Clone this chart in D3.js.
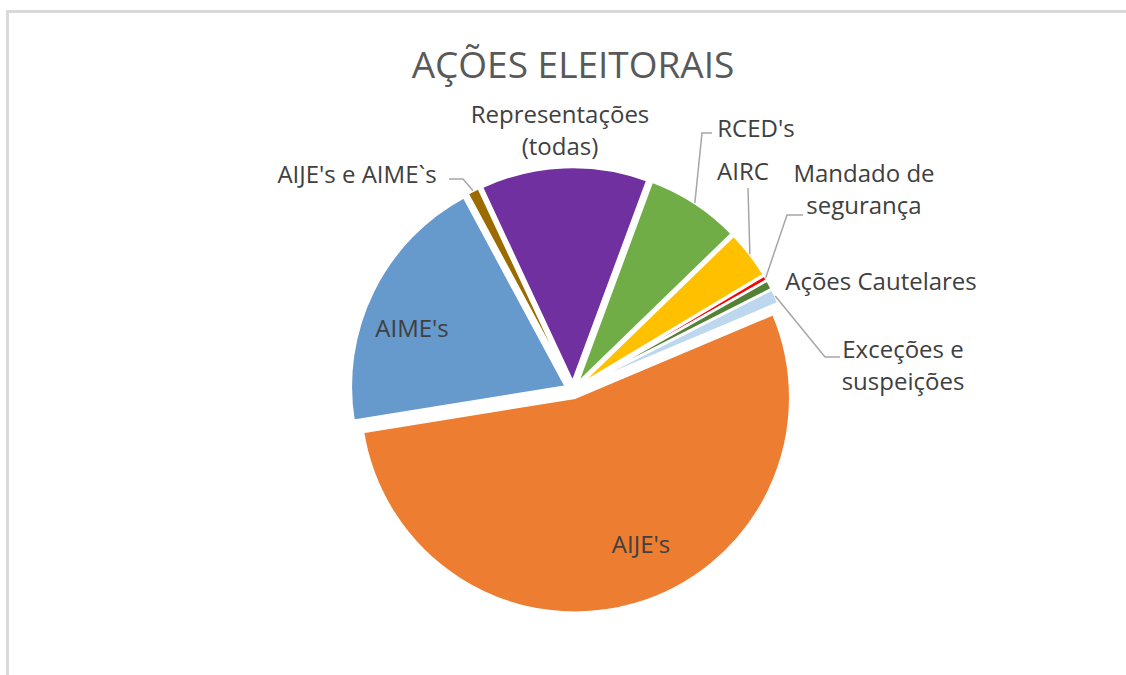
<!DOCTYPE html>
<html>
<head>
<meta charset="utf-8">
<script src="https://cdn.jsdelivr.net/npm/d3@7"></script>
<style>
  html, body { margin: 0; padding: 0; background: #fff; }
  svg { display: block; font-family: "Open Sans", "Liberation Sans", sans-serif; }
</style>
</head>
<body>
<div class="pie-chart"></div>
<script>
// chart data, in the order the slices run clockwise
var categories = ["AIJE's", "AIME's", "AIJE's e AIME`s", "Representações (todas)",
                  "RCED's", "AIRC", "Mandado de segurança", "Ações Cautelares",
                  "Exceções e suspeições"];
var values = [530, 194, 9, 124, 70, 36, 4, 7, 11];
var colors = ["#ED7D31", "#6699CC", "#9C6B00", "#7030A0",
              "#70AD47", "#FFC000", "#FF0000", "#548235", "#BDD7EE"];
var title = "AÇÕES ELEITORAIS";

// label lines and where Excel put them
var labelLines = [["AIJE's"], ["AIME's"], ["AIJE's e AIME`s"], ["Representações", "(todas)"],
                  ["RCED's"], ["AIRC"], ["Mandado de", "segurança"], ["Ações Cautelares"],
                  ["Exceções e", "suspeições"]];
var labelLayout = [
  {x: 641, y: 553},
  {x: 412, y: 337},
  {x: 357, y: 183, leader: [[463, 179], [449, 179]]},
  {x: 560, y: 123},
  {x: 756, y: 137, leader: [[702, 133], [712, 133]]},
  {x: 743, y: 180, leader: [[748, 188]]},
  {x: 864, y: 182, leader: [[787, 215], [803, 215]]},
  {x: 881, y: 290},
  {x: 903, y: 358, leader: [[825, 357], [840, 357]]}
];

var width = 1126,
    height = 675;
var cx = 573, cy = 390,
    radius = 215,
    explode = 8,
    lineHeight = 32;
var rotation = 67.1 * Math.PI / 180;

var svg = d3.select(".pie-chart").append("svg")
        .attr("width", width)
        .attr("height", height);

// chart frame (only top and left show)
svg.append("path")
        .attr("d", "M7.5," + height + "V11.5H" + width)
        .attr("fill", "none")
        .attr("stroke", "#D9D9D9")
        .attr("stroke-width", 3);

svg.append("text")
        .attr("x", cx)
        .attr("y", 78)
        .attr("text-anchor", "middle")
        .attr("font-size", 37)
        .attr("fill", "#595959")
        .text(title);

var pie = d3.pie()
        .sort(null)
        .startAngle(rotation)
        .endAngle(rotation + 2 * Math.PI);
var arc = d3.arc()
        .innerRadius(0)
        .outerRadius(radius);
var arcs = pie(values);

function mid(d) { return (d.startAngle + d.endAngle) / 2; }
function shift(d) {
  var a = mid(d);
  return [explode * Math.sin(a), -explode * Math.cos(a)];
}
function rimPoint(d) {
  var a = mid(d), s = shift(d);
  return [cx + s[0] + radius * Math.sin(a), cy + s[1] - radius * Math.cos(a)];
}

var g = svg.append("g")
        .attr("transform", "translate(" + cx + "," + cy + ")");

g.selectAll("path.slice")
        .data(arcs)
        .enter().append("path")
        .attr("class", "slice")
        .attr("d", arc)
        .attr("transform", function (d) {
          var s = shift(d);
          return "translate(" + s[0] + "," + s[1] + ")";
        })
        .attr("fill", function (d, i) { return colors[i]; })
        .attr("stroke", "#fff")
        .attr("stroke-width", 2.5)
        .attr("stroke-linejoin", "round");

// leader lines
var line = d3.line();
arcs.forEach(function (d, i) {
  var lay = labelLayout[i];
  if (!lay.leader) return;
  var pts = [rimPoint(d)].concat(lay.leader);
  svg.append("path")
          .attr("d", line(pts))
          .attr("fill", "none")
          .attr("stroke", "#A6A6A6")
          .attr("stroke-width", 1.5);
});

// data labels
arcs.forEach(function (d, i) {
  var lay = labelLayout[i];
  var t = svg.append("text")
          .attr("text-anchor", "middle")
          .attr("font-size", 24)
          .attr("fill", "#404040");
  labelLines[i].forEach(function (s, k) {
    t.append("tspan")
            .attr("x", lay.x)
            .attr("y", lay.y + k * lineHeight)
            .text(s);
  });
});
</script>
</body>
</html>
